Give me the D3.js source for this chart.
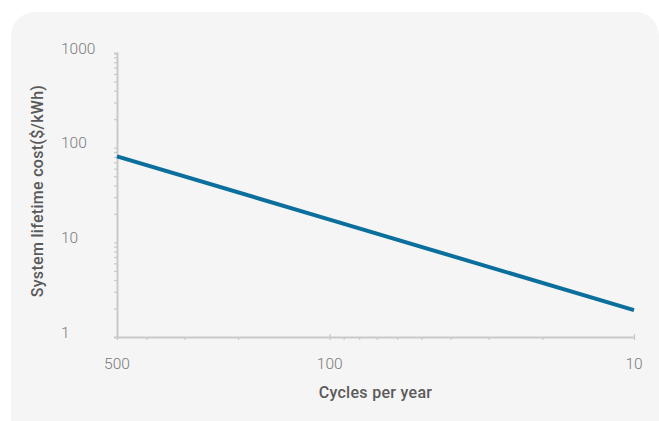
<!DOCTYPE html>
<html>
<head>
<meta charset="utf-8">
<script src="https://cdn.jsdelivr.net/npm/d3@7"></script>
<style>
  html, body { margin: 0; padding: 0; background: #ffffff; }
  svg { display: block; }
</style>
</head>
<body>
<svg id="chart" width="659" height="421"></svg>
<script>
// Lifetime cost of a storage system versus how often it is cycled
const cyclesPerYear = [500, 100, 10];
const lifetimeCost = [81, 17.4, 1.92];
const xTickValues = [500, 100, 10];
const yTickValues = [1, 10, 100, 1000];
const xAxisTitle = "Cycles per year";
const yAxisTitle = "System lifetime cost($/kWh)";

const svg = d3.select("#chart");
const W = 659, H = 421;
const margin = { left: 117, right: 25, top: 53, bottom: 84 };

// panel background with rounded top corners
const bx = 11, by = 12, bw = 648, bh = 440, r = 24;
svg.append("path")
  .attr("d", `M${bx},${by + r} A${r},${r} 0 0 1 ${bx + r},${by} L${bx + bw - r},${by} A${r},${r} 0 0 1 ${bx + bw},${by + r} L${bx + bw},${by + bh} L${bx},${by + bh} Z`)
  .attr("fill", "#f5f5f5");

const x = d3.scaleLog().domain([500, 10]).range([margin.left, W - margin.right]);
const y = d3.scaleLog().domain([1, 1000]).range([H - margin.bottom, margin.top]);

const axisColor = "#c9c9c9";
const labelColor = "#7a7a7a";
const titleColor = "#5a5a5a";
const font = "Roboto, 'Open Sans', sans-serif";

// y axis: minor ticks at every 1..9 multiple of each decade
const yMinor = [];
for (let e = 0; e < 3; e++) for (let m = 1; m <= 9; m++) yMinor.push(m * Math.pow(10, e));
yMinor.push(1000);
const yAxisG = svg.append("g").attr("transform", `translate(${margin.left},0)`);
yAxisG.call(d3.axisLeft(y).tickValues(yMinor).tickSize(3).tickFormat(""));
yAxisG.select(".domain").attr("stroke", axisColor).attr("stroke-width", 2);
yAxisG.selectAll(".tick line").attr("stroke", axisColor).attr("stroke-width", 1.2);

// y tick labels, left aligned, sitting beside their tick
svg.append("g").selectAll("text").data(yTickValues).join("text")
  .attr("x", 61)
  .attr("y", d => y(d) + 0.5)
  .attr("font-family", font)
  .attr("font-weight", 300)
  .attr("font-size", 15.5)
  .attr("fill", labelColor)
  .text(d => d);

// x axis: minor ticks at each step of cycle count
const xMinor = [500, 400, 300, 200, 100, 90, 80, 70, 60, 50, 40, 30, 20, 10];
const xAxisG = svg.append("g").attr("transform", `translate(0,${H - margin.bottom})`);
xAxisG.call(d3.axisBottom(x).tickValues(xMinor).tickSize(3).tickSizeOuter(0).tickFormat(""));
xAxisG.select(".domain").attr("stroke", axisColor).attr("stroke-width", 2);
xAxisG.selectAll(".tick line").attr("stroke", axisColor).attr("stroke-width", 1.2);
// major x ticks cross the axis line
xAxisG.selectAll(".tick line").filter(d => xTickValues.includes(d))
  .attr("y1", -3).attr("y2", 3);

svg.append("g").selectAll("text").data(xTickValues).join("text")
  .attr("x", d => x(d))
  .attr("y", H - margin.bottom + 32)
  .attr("text-anchor", "middle")
  .attr("font-family", font)
  .attr("font-weight", 300)
  .attr("font-size", 15.5)
  .attr("fill", labelColor)
  .text(d => d);

// axis titles
svg.append("text")
  .attr("x", (x.range()[0] + x.range()[1]) / 2)
  .attr("y", 398)
  .attr("text-anchor", "middle")
  .attr("font-family", font)
  .attr("font-weight", 500)
  .attr("font-size", 16)
  .attr("letter-spacing", 0.3)
  .attr("fill", titleColor)
  .text(xAxisTitle);

svg.append("text")
  .attr("transform", `translate(43,191) rotate(-90)`)
  .attr("text-anchor", "middle")
  .attr("font-family", font)
  .attr("font-weight", 500)
  .attr("font-size", 16)
  .attr("letter-spacing", 0.3)
  .attr("fill", titleColor)
  .text(yAxisTitle);

// cost curve
const data = cyclesPerYear.map((c, i) => ({ c, v: lifetimeCost[i] }));
svg.append("path")
  .datum(data)
  .attr("fill", "none")
  .attr("stroke", "#0a6f9c")
  .attr("stroke-width", 4)
  .attr("d", d3.line().x(d => x(d.c)).y(d => y(d.v)));
</script>
</body>
</html>
